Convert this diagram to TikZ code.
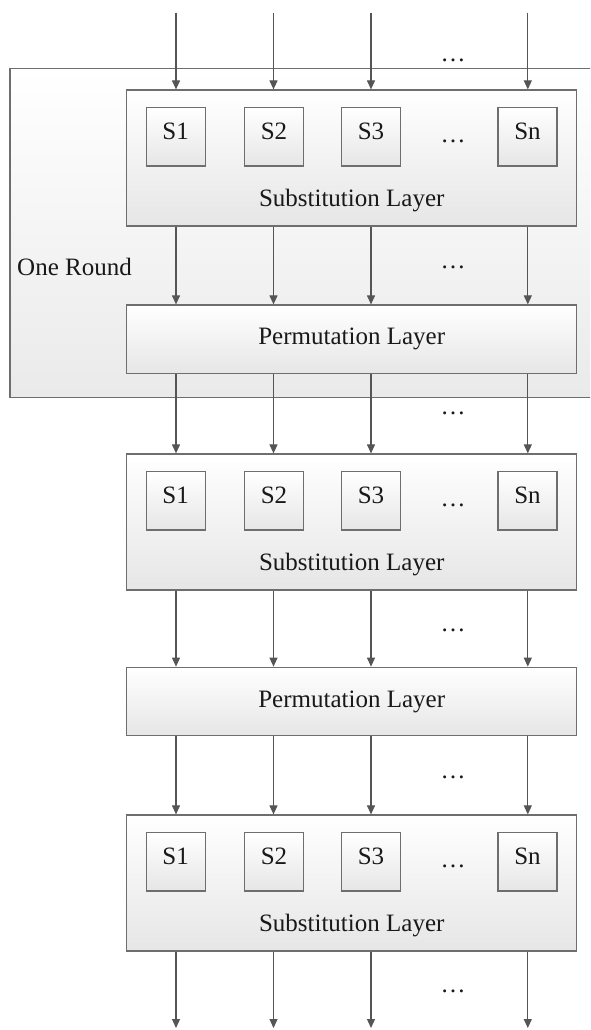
\documentclass[tikz,border=0pt]{standalone}
\usepackage{fontspec}
\setmainfont{Liberation Serif}
\usetikzlibrary{arrows.meta}
\definecolor{edge}{HTML}{555555}
\definecolor{frame}{HTML}{6E6E6E}
\definecolor{shadelow}{HTML}{E6E6E6}
\definecolor{roundlow}{HTML}{EAEAEA}
\begin{document}
\begin{tikzpicture}[x=1pt,y=-1pt,
  font=\fontsize{25}{29}\selectfont,
  box/.style={draw=frame, line width=1.2pt, top color=white, bottom color=shadelow, inner sep=0pt, text=black!90},
  layer/.style={box, minimum width=450pt},
  sbox/.style={box, minimum width=59pt, minimum height=58.5pt, text height=0.68em, text depth=0.05em},
  roundframe/.style={draw=frame, line width=1.2pt, top color=white, bottom color=roundlow, inner sep=0pt, anchor=north west},
  dots/.style={anchor=base, inner sep=0pt, text=black!90},
  caption/.style={anchor=base, inner sep=0pt, text=black!90},
  arr/.style={draw=edge, line width=1.1pt, -{Triangle[length=9pt,width=8pt]}}]
\useasboundingbox (0,0) rectangle (590,1030);
\begin{scope}
\clip (0,0) rectangle (590,1030);

% frame of one round
\node[roundframe, minimum width=600pt, minimum height=328.4pt] (round) at (9.3,68.3) {};
\node[caption, anchor=base west] (roundtxt) at (17,275) {One Round};

% layers
\node[layer, minimum height=136pt] (sub1) at (351.7,158) {};
\node[layer, minimum height=68.5pt] (perm1) at (351.7,339.25) {Permutation Layer};
\node[layer, minimum height=136pt] (sub2) at (351.7,522) {};
\node[layer, minimum height=68.5pt] (perm2) at (351.7,701.5) {Permutation Layer};
\node[layer, minimum height=136pt] (sub3) at (351.7,883) {};

% labels of substitution layers
\node[caption] (sub1txt) at (351.7,206) {Substitution Layer};
\node[caption] (sub2txt) at (351.7,570) {Substitution Layer};
\node[caption] (sub3txt) at (351.7,931) {Substitution Layer};

% S-boxes
\foreach \r/\y/\d in {1/136.75/142.5, 2/500.75/506, 3/861.75/867} {
  \node[sbox] (s\r a) at (175.6,\y) {S1};
  \node[sbox] (s\r b) at (274,\y) {S2};
  \node[sbox] (s\r c) at (371,\y) {S3};
  \node[sbox] (s\r n) at (527.5,\y) {Sn};
  \node[dots] (s\r dots) at (453,\d) {…};
}

% free ends of the wires
\foreach \c/\x in {a/176, b/273.5, c/371, n/527.8} {
  \coordinate (top\c) at (\x,12.7);
  \coordinate (bot\c) at (\x,1028);
}

% wires between layers
\foreach \c in {a,b,c,n} {
  \draw[arr] (top\c) -- (top\c |- sub1.north);
  \draw[arr] (top\c |- sub1.south) -- (top\c |- perm1.north);
  \draw[arr] (top\c |- perm1.south) -- (top\c |- sub2.north);
  \draw[arr] (top\c |- sub2.south) -- (top\c |- perm2.north);
  \draw[arr] (top\c |- perm2.south) -- (top\c |- sub3.north);
  \draw[arr] (top\c |- sub3.south) -- (bot\c);
}

% ellipses between the wires
\foreach \i/\d in {1/62, 2/268, 3/414, 4/631, 5/778, 6/992} {
  \node[dots] (gap\i) at (453,\d) {…};
}
\end{scope}
\end{tikzpicture}
\end{document}
